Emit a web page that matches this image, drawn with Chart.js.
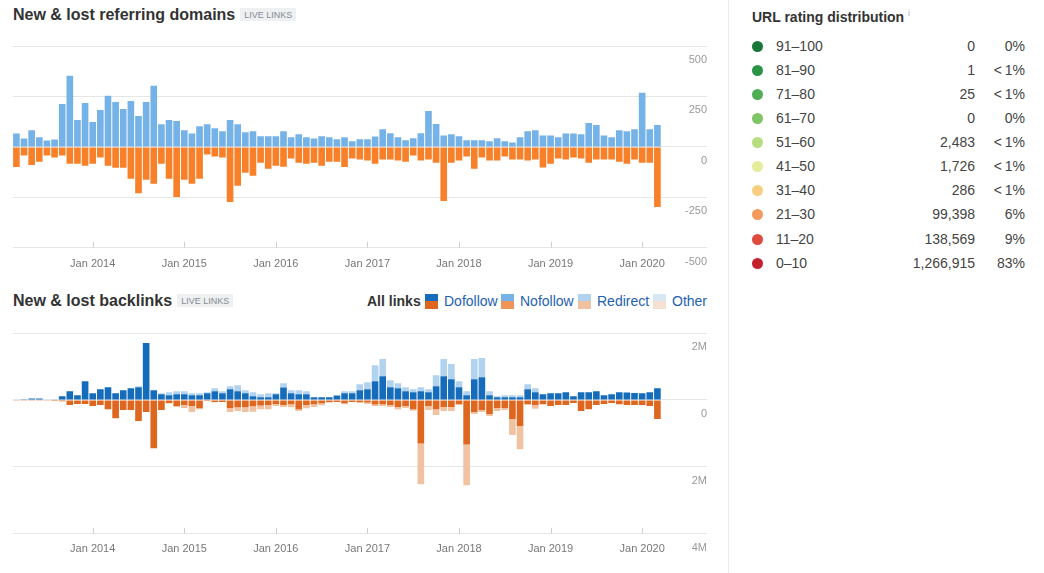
<!DOCTYPE html>
<html>
<head>
<meta charset="utf-8">
<script src="https://cdn.jsdelivr.net/npm/chart.js@4.4.1/dist/chart.umd.min.js"></script>
<style>
  body { margin: 0; background: #fff; font-family: "Liberation Sans", Arial, sans-serif; color: #333; }
  #page { position: relative; width: 1044px; height: 573px; overflow: hidden; }
  .title { position: absolute; left: 13px; font-weight: bold; font-size: 16px; color: #333; white-space: nowrap; }
  .badge { display: inline-block; font-size: 9px; font-weight: normal; color: #868b93; background: #eef0f2;
           padding: 2px 4px 1px; margin-left: 5px; vertical-align: 2px; }
  canvas { position: absolute; left: 0; }
  .lg { position: absolute; top: 293px; font-size: 14px; white-space: nowrap; color: #1e62b0; line-height: 16px; }
  .sw { position: absolute; top: 294px; width: 13px; height: 15px; }
  #side { position: absolute; left: 728px; top: 0; width: 316px; height: 573px; border-left: 1px solid #ececec; }
  #side h3 { position: absolute; left: 23px; top: 8px; margin: 0; font-size: 14px; font-weight: bold; color: #333; }
  #side h3 sup { font-weight: normal; color: #aaa; font-size: 9px; }
  .row { position: absolute; left: 0; width: 316px; height: 20px; font-size: 14px; line-height: 20px; color: #444; }
  .row .dot { position: absolute; left: 23px; top: 5px; width: 11px; height: 11px; border-radius: 50%; }
  .row .rg { position: absolute; left: 47px; }
  .row .ct { position: absolute; right: 70px; }
  .row .pc { position: absolute; right: 20px; }
</style>
</head>
<body>
<div id="page">
  <div class="title" style="top:6px">New &amp; lost referring domains<span class="badge">LIVE LINKS</span></div>
  <canvas id="domains" width="720" height="253" style="top:30px"></canvas>

  <div class="title" style="top:292px">New &amp; lost backlinks<span class="badge">LIVE LINKS</span></div>
  <div class="lg" style="left:367px;color:#333;font-weight:bold">All links</div>
  <div class="sw" style="left:425px;background:linear-gradient(#156cba 50%,#de661e 50%)"></div>
  <div class="lg" style="left:444px">Dofollow</div>
  <div class="sw" style="left:501px;background:linear-gradient(#74b2e7 50%,#ef955a 50%)"></div>
  <div class="lg" style="left:520px">Nofollow</div>
  <div class="sw" style="left:578px;background:linear-gradient(#b2d3ef 50%,#f0c2a2 50%)"></div>
  <div class="lg" style="left:597px">Redirect</div>
  <div class="sw" style="left:653px;background:linear-gradient(#d8e8f3 50%,#f5e0d1 50%)"></div>
  <div class="lg" style="left:672px">Other</div>
  <canvas id="backlinks" width="720" height="250" style="top:317px"></canvas>

  <div id="side">
    <h3>URL rating distribution <sup>i</sup></h3>
  </div>
</div>

<script>
// month categories, Mar 2013 .. Sep 2020 (the last months have no data yet)
const monthNames = ['Jan', 'Feb', 'Mar', 'Apr', 'May', 'Jun', 'Jul', 'Aug', 'Sep', 'Oct', 'Nov', 'Dec'];
const months = [];
for (let i = 0; i < 91; i++) {
  months.push(monthNames[(2 + i) % 12] + ' ' + (2013 + Math.floor((2 + i) / 12)));
}

// referring domains per month
const newDomains = [67, 42, 83, 48, 32, 37, 213, 353, 133, 218, 123, 183, 253, 223, 188, 228, 153, 223, 303, 112,
  133, 128, 83, 67, 102, 112, 93, 78, 133, 112, 72, 78, 53, 53, 53, 78, 48, 63, 48, 42,
  53, 48, 38, 48, 28, 38, 38, 52, 88, 68, 48, 33, 43, 68, 178, 113, 57, 63, 53, 33,
  33, 33, 28, 43, 28, 22, 48, 77, 83, 57, 57, 48, 67, 67, 63, 118, 108, 57, 48, 83,
  77, 88, 268, 88, 108];
const lostDomains = [100, 43, 90, 73, 43, 53, 43, 83, 83, 93, 83, 53, 93, 103, 103, 158, 230, 163, 183, 83,
  158, 248, 163, 183, 158, 38, 48, 53, 273, 193, 128, 143, 78, 108, 93, 98, 58, 78, 83, 78,
  93, 73, 73, 100, 58, 62, 68, 83, 62, 62, 67, 73, 42, 67, 62, 78, 268, 78, 67, 48,
  108, 53, 67, 67, 48, 62, 62, 68, 62, 102, 83, 58, 62, 53, 58, 78, 62, 62, 62, 73,
  83, 62, 78, 78, 298];
const domainTicks = [-500, 250, 500];

// backlinks per month, in thousands
const newDofollowK = [15, 20, 40, 40, 15, 15, 110, 260, 140, 560, 200, 320, 380, 200, 290, 350, 380, 1700, 290, 170,
  140, 170, 170, 140, 140, 200, 260, 200, 320, 260, 200, 110, 80, 80, 170, 370, 200, 170, 170, 80,
  80, 80, 130, 200, 200, 290, 320, 560, 710, 380, 350, 260, 230, 260, 230, 410, 710, 620, 380, 140,
  620, 680, 140, 80, 80, 80, 80, 320, 230, 170, 200, 200, 230, 110, 230, 230, 260, 140, 170, 230,
  220, 210, 200, 230, 350, 10];
const newRedirectK = [0, 0, 0, 0, 0, 10, 0, 0, 0, 0, 0, 0, 0, 0, 0, 0, 30, 0, 0, 30,
  90, 90, 90, 60, 60, 30, 90, 60, 90, 180, 90, 120, 90, 120, 30, 130, 90, 120, 90, 0,
  0, 0, 0, 60, 60, 180, 210, 480, 510, 210, 150, 120, 90, 120, 90, 330, 510, 450, 180, 120,
  600, 570, 120, 30, 60, 60, 60, 150, 120, 0, 0, 0, 0, 0, 0, 0, 0, 0, 0, 0,
  0, 0, 0, 0, 0, 0];
const lostDofollowK = [10, 10, 10, 10, 10, 5, 40, 150, 120, 120, 180, 150, 280, 550, 300, 300, 630, 360, 1440, 300,
  90, 180, 150, 180, 250, 30, 60, 60, 240, 220, 220, 190, 170, 150, 120, 150, 130, 280, 150, 130,
  100, 70, 60, 100, 60, 60, 80, 140, 130, 150, 210, 180, 280, 1300, 180, 280, 210, 210, 120, 1330,
  360, 300, 420, 240, 240, 570, 780, 120, 150, 130, 180, 150, 150, 90, 330, 280, 150, 120, 90, 130,
  150, 150, 150, 180, 570, 0];
const lostRedirectK = [0, 0, 0, 0, 0, 0, 0, 0, 0, 0, 0, 0, 0, 0, 0, 0, 0, 0, 0, 0,
  20, 30, 90, 180, 30, 0, 10, 0, 120, 110, 140, 160, 110, 130, 60, 60, 90, 50, 100, 80,
  60, 0, 0, 30, 0, 30, 40, 40, 50, 60, 70, 60, 40, 1220, 120, 170, 120, 120, 30, 1220,
  60, 60, 60, 90, 60, 480, 690, 30, 110, 0, 0, 0, 0, 0, 0, 0, 0, 0, 0, 0,
  0, 0, 0, 0, 0, 0];
const backlinkTicks = [-4000000, 2000000, 2000000];

// URL rating distribution
const urRanges = ['91–100', '81–90', '71–80', '61–70', '51–60', '41–50', '31–40', '21–30', '11–20', '0–10'];
const urCounts = [0, 1, 25, 0, 2483, 1726, 286, 99398, 138569, 1266915];
const urShares = ['0%', '<\u20091%', '<\u20091%', '0%', '<\u20091%', '<\u20091%', '<\u20091%', '6%', '9%', '83%'];
const urColors = ['#17763a', '#2a9446', '#4fae55', '#7fc465', '#b6dd7e', '#e5ec9a', '#f8cf80', '#f49a5d', '#e04a3c', '#c6202c'];

const side = document.getElementById('side');
urRanges.forEach((r, i) => {
  const row = document.createElement('div');
  row.className = 'row';
  row.style.top = (36 + i * 24.07) + 'px';
  row.innerHTML = '<span class="dot" style="background:' + urColors[i] + '"></span>' +
    '<span class="rg">' + r + '</span>' +
    '<span class="ct">' + urCounts[i].toLocaleString('en-US') + '</span>' +
    '<span class="pc">' + urShares[i] + '</span>';
  side.appendChild(row);
});

Chart.defaults.font.family = '"Liberation Sans", Arial, sans-serif';

// small tick marks on the inside of the bottom line, at every January
const janTicks = {
  id: 'janTicks',
  afterDraw(chart) {
    const x = chart.scales.x, ctx = chart.ctx, b = chart.chartArea.bottom;
    ctx.save();
    ctx.strokeStyle = '#cfcfcf';
    ctx.lineWidth = 1;
    months.forEach((m, i) => {
      if (!m.startsWith('Jan')) return;
      const px = Math.round(x.getPixelForValue(i)) + 0.5;
      ctx.beginPath();
      ctx.moveTo(px, b - 6);
      ctx.lineTo(px, b);
      ctx.stroke();
    });
    ctx.restore();
  }
};

function makeChart(id, datasets, ticks, fmt, labelPad) {
  return new Chart(document.getElementById(id), {
    type: 'bar',
    data: { labels: months, datasets: datasets },
    options: {
      responsive: false,
      animation: false,
      layout: { padding: { left: 12.6, right: 13, top: 16, bottom: 2 } },
      plugins: { legend: { display: false }, tooltip: { enabled: false } },
      datasets: { bar: { categoryPercentage: 1, barPercentage: 0.87 } },
      scales: {
        x: {
          stacked: true,
          grid: { display: false, drawTicks: false },
          border: { display: false },
          ticks: {
            autoSkip: false, maxRotation: 0, minRotation: 0, padding: labelPad,
            color: '#777', font: { size: 11 },
            callback: v => months[v].startsWith('Jan') ? months[v] : ''
          }
        },
        y: {
          stacked: true,
          position: 'right',
          min: ticks[0], max: ticks[2], ticks: {
            stepSize: ticks[1], mirror: true, padding: 0, labelOffset: 14,
            color: '#999', font: { size: 11 }, callback: fmt
          },
          grid: { color: '#e6e6e6', drawTicks: false },
          border: { display: false }
        }
      }
    },
    plugins: [janTicks]
  });
}

makeChart('domains', [
  { label: 'New', data: newDomains, backgroundColor: '#74b2e7' },
  { label: 'Lost', data: lostDomains.map(v => -v), backgroundColor: '#f78028' }
], domainTicks, v => String(v), 10);

makeChart('backlinks', [
  { label: 'New dofollow', data: newDofollowK.map(v => v * 1000), backgroundColor: '#156cba' },
  { label: 'New redirect', data: newRedirectK.map(v => v * 1000), backgroundColor: '#b2d3ef' },
  { label: 'Lost dofollow', data: lostDofollowK.map(v => -v * 1000), backgroundColor: '#de661e' },
  { label: 'Lost redirect', data: lostRedirectK.map(v => -v * 1000), backgroundColor: '#f0c2a2' }
], backlinkTicks, v => v === 0 ? '0' : Math.abs(v) / 1000000 + 'M', 9);
</script>
</body>
</html>
